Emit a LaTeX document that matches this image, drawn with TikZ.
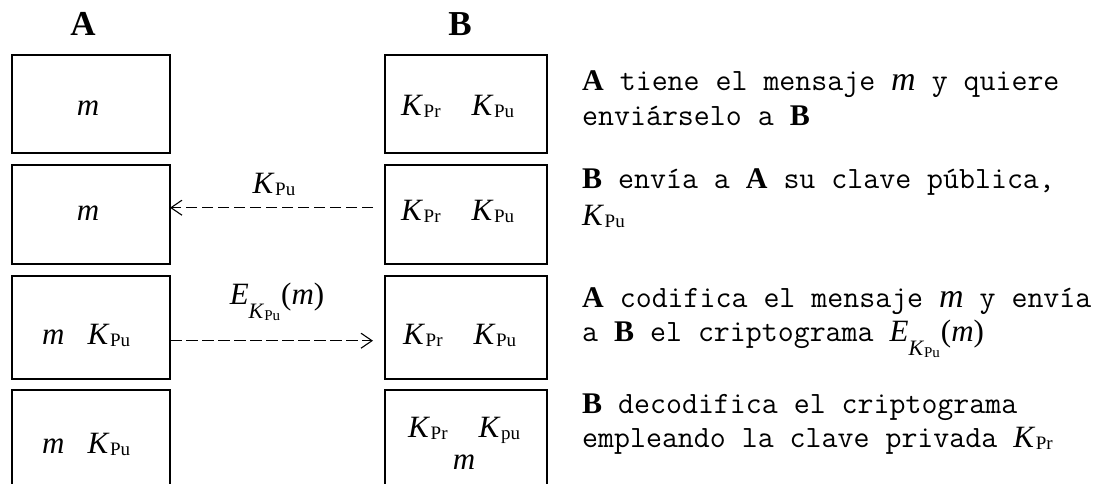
\documentclass[tikz,border=0pt]{standalone}
\usepackage{fontspec}
\setmainfont{Liberation Serif}
\usetikzlibrary{arrows.meta}
\newcommand\Kx[1]{{\rmfamily\textit{K}\kern0.5pt\raisebox{-2.5pt}{\fontsize{19}{19}\selectfont #1}}}
\newcommand\Ekm{{\rmfamily\textit{E}\raisebox{-14pt}{\fontsize{22}{22}\selectfont\textit{K}\raisebox{-2pt}{\fontsize{15}{15}\selectfont Pu}}\kern1pt(\textit{m})}}
\newcommand\Bfx[1]{{\fontsize{30}{30}\selectfont\rmfamily\bfseries #1}}
\newcommand\Itm{{\fontsize{34}{34}\selectfont\rmfamily\itshape m}}
\newcommand\Kr[1]{{\fontsize{31}{31}\selectfont\Kx{#1}}}
\newcommand\Er{{\fontsize{31}{31}\selectfont\Ekm}}
\tikzset{
  box/.style={draw, line width=1.6pt, inner sep=0pt, anchor=north west},
  intxt/.style={inner sep=0pt, font=\fontsize{31}{33}\selectfont},
  head/.style={inner sep=0pt, anchor=base, font=\fontsize{35}{35}\selectfont\bfseries},
  rtxt/.style={inner sep=0pt, anchor=base west, font=\fontsize{31}{35}\selectfont\ttfamily},
  dasharrow/.style={line width=1.3pt, dash pattern=on 11.5pt off 4.5pt, -{Straight Barb[length=11pt, width=15pt, line width=1.1pt]}},
}
\begin{document}
\begin{tikzpicture}[x=1pt, y=-1pt]
\clip (0,0) rectangle (1093,483);
\fill[white] (0,0) rectangle (1093,483);
% headers
\node[head] (hA) at (83,35) {A};
\node[head] (hB) at (460,35) {B};
% boxes
\node[box, minimum width=158pt, minimum height=98pt]  (a1) at (11,54) {};
\node[box, minimum width=158pt, minimum height=99pt]  (a2) at (11,164) {};
\node[box, minimum width=158pt, minimum height=103pt] (a3) at (11,275) {};
\node[box, minimum width=158pt, minimum height=140pt] (a4) at (11,389) {};
\node[box, minimum width=162pt, minimum height=98pt]  (b1) at (384,54) {};
\node[box, minimum width=162pt, minimum height=99pt]  (b2) at (384,164) {};
\node[box, minimum width=162pt, minimum height=103pt] (b3) at (384,275) {};
\node[box, minimum width=162pt, minimum height=140pt] (b4) at (384,389) {};
% box contents
\node[intxt, anchor=base] (a1m) at (88,115) {\textit{m}};
\node[intxt, anchor=base] (a2m) at (88,220) {\textit{m}};
\node[intxt, anchor=base west] (a3m) at (42,344) {\textit{m}\hspace{23pt}\Kx{Pu}};
\node[intxt, anchor=base west] (a4m) at (42,453) {\textit{m}\hspace{23pt}\Kx{Pu}};
\node[intxt, anchor=base west] (b1k) at (401,115) {\Kx{Pr}\hspace{31pt}\Kx{Pu}};
\node[intxt, anchor=base west] (b2k) at (401,220) {\Kx{Pr}\hspace{31pt}\Kx{Pu}};
\node[intxt, anchor=base west] (b3k) at (403,344) {\Kx{Pr}\hspace{31pt}\Kx{Pu}};
\node[intxt, anchor=base west] (b4k) at (408,437) {\Kx{Pr}\hspace{31pt}\Kx{pu}};
\node[intxt, anchor=base] (b4m) at (464,469) {\textit{m}};
% arrows
\coordinate (s2) at (373,207.7);
\coordinate (e2) at (170,207.7);
\coordinate (s3) at (170,340.7);
\coordinate (e3) at (373,340.7);
\draw[dasharrow] (s2) -- (e2);
\draw[dasharrow] (s3) -- (e3);
\node[intxt, anchor=base] (l2) at (274,193) {\Kx{Pu}};
\node[intxt, anchor=base] (l3) at (277,304) {\Ekm};
% right texts
\node[rtxt] (t1a) at (582,90)  {\Bfx{A} tiene el mensaje \Itm{} y quiere};
\node[rtxt] (t1b) at (582,125) {enviárselo a \Bfx{B}};
\node[rtxt] (t2a) at (582,188) {\Bfx{B} envía a \Bfx{A} su clave pública,};
\node[rtxt] (t2b) at (582,225) {\Kr{Pu}};
\node[rtxt] (t3a) at (582,307) {\Bfx{A} codifica el mensaje \Itm{} y envía};
\node[rtxt] (t3b) at (582,341) {a \Bfx{B} el criptograma \Er};
\node[rtxt] (t4a) at (582,413) {\Bfx{B} decodifica el criptograma};
\node[rtxt] (t4b) at (582,447) {empleando la clave privada \Kr{Pr}};
\end{tikzpicture}
\end{document}
